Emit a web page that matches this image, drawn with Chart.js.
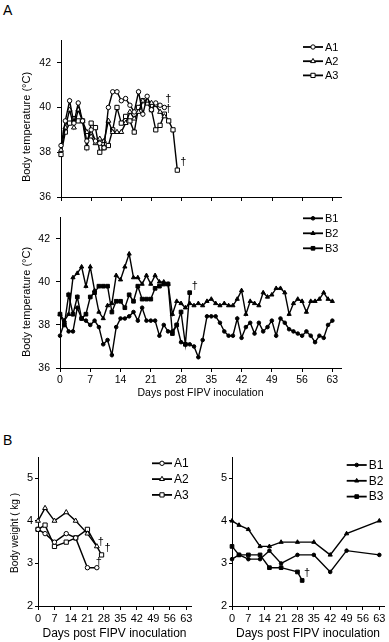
<!DOCTYPE html>
<html>
<head>
<meta charset="utf-8">
<script src="https://cdn.jsdelivr.net/npm/chart.js@4"></script>
<style>
  body { margin: 0; background: #fff; width: 389px; height: 642px; position: relative; overflow: hidden;
         font-family: "Liberation Sans", Arial, sans-serif; }
  canvas { position: absolute; }
  .panel { position: absolute; font-size: 14px; color: #000; line-height: 16px; }
</style>
</head>
<body>
<div class="panel" style="left:3px;top:2px">A</div>
<div class="panel" style="left:3px;top:432px">B</div>
<canvas id="tempA" width="389" height="182" style="left:0;top:28px"></canvas>
<canvas id="tempB" width="389" height="200" style="left:0;top:205px"></canvas>
<canvas id="wtA" width="196" height="197" style="left:0;top:445px"></canvas>
<canvas id="wtB" width="195" height="197" style="left:194px;top:445px"></canvas>

<script>
// x ticks shared by every panel (days post inoculation)
const dayTicks = [0, 7, 14, 21, 28, 35, 42, 49, 56, 63];
const tempTicks = [36, 38, 40, 42];
const weightTicks = [2, 3, 4, 5];

// body temperature, one value per day starting at day 0
const tempA1 = [38.3, 39.4, 40.3, 39.3, 40.2, 39.4, 38.5, 39.0, 38.5, 38.4, 38.2, 40.0, 40.7, 40.7,
                40.3, 40.4, 40.1, 39.8, 40.7, 39.7, 40.5, 39.9, 40.2, 40.1, 40.0];
const tempA2 = [38.1, 39.1, 39.9, 39.1, 39.9, 39.4, 38.9, 38.7, 38.4, 38.6, 38.5, 39.4, 38.9, 38.9,
                38.9, 39.3, 39.8, 39.5, 39.8, 40.3, 40.3, 40.2, 40.1, 39.8, 39.6];
const tempA3 = [37.9, 38.9, 39.3, 39.5, 39.4, 39.4, 38.2, 39.3, 39.1, 38.0, 38.2, 38.3, 39.0, 40.0,
                39.3, 39.6, 39.4, 38.9, 40.0, 40.3, 40.2, 39.9, 39.0, 39.2, 39.7, 39.4, 39.0, 37.2];

const tempB1 = [37.5, 38.1, 37.7, 37.7, 38.8, 38.3, 38.2,
                38.0, 38.2, 37.9, 37.1, 37.3, 36.6, 37.9,
                38.3, 38.3, 38.4, 38.6, 38.2, 38.8, 38.2,
                38.2, 38.2, 37.5, 38.0, 37.7, 37.7, 38.0,
                37.2, 37.1, 37.1, 37.0, 36.5, 37.3, 38.4,
                38.4, 38.4, 38.1, 37.7, 37.5, 37.5, 38.3,
                37.4, 37.9, 38.1, 37.6, 38.1, 37.7, 37.9,
                38.2, 37.5, 38.3, 38.1, 37.8, 37.7, 37.6,
                37.5, 37.7, 37.5, 37.2, 37.5, 37.4, 38.0,
                38.2];
const tempB2 = [38.5, 38.2, 38.5, 40.2, 40.4, 40.7, 39.8,
                40.7, 39.6, 38.6, 38.3, 38.9, 39.0, 40.3,
                40.1, 40.7, 41.3, 40.2, 40.2, 39.9, 40.3,
                39.9, 40.3, 40.0, 40.0, 39.9, 38.5, 39.1,
                39.0, 38.8, 39.0, 38.9, 39.0, 38.9, 39.1,
                39.2, 39.0, 38.9, 39.0, 38.9, 38.9, 39.2,
                39.6, 38.5, 39.1, 39.0, 38.9, 39.5, 39.3,
                39.4, 39.7, 39.7, 39.5, 38.5, 39.0, 39.2,
                39.1, 38.6, 39.1, 39.1, 39.2, 39.5, 39.2,
                39.1];
const tempB3 = [38.5, 38.0, 39.4, 38.5, 39.3, 38.3, 38.5,
                39.3, 39.5, 39.8, 39.8, 39.8, 38.6, 39.1,
                39.1, 38.8, 39.4, 39.1, 39.8, 39.2, 39.2,
                39.2, 39.7, 39.8, 39.9, 39.9, 37.6, 38.0,
                38.6, 37.1, 39.5];

// body weight (kg) on weighing days
const wDaysA1 = [0, 3, 7, 12, 16, 21, 25];
const wDaysA2 = [0, 3, 7, 12, 16, 21, 25];
const wDaysA3 = [0, 3, 7, 12, 16, 21, 27];
const weightA1 = [3.8, 3.7, 3.5, 3.7, 3.6, 2.9, 2.9];
const weightA2 = [4.0, 4.3, 4.0, 4.2, 4.0, 3.7, 3.4];
const weightA3 = [3.8, 3.9, 3.4, 3.5, 3.6, 3.8, 3.2];

const wDaysB = [0, 3, 7, 12, 16, 21, 28, 35, 42, 49, 63];
const wDaysB3 = [0, 3, 7, 12, 16, 21, 28, 30];
const weightB1 = [3.1, 3.2, 3.1, 3.1, 3.3, 3.0, 3.2, 3.2, 2.8, 3.3, 3.2];
const weightB2 = [4.0, 3.9, 3.8, 3.4, 3.4, 3.5, 3.5, 3.5, 3.2, 3.7, 4.0];
const weightB3 = [3.4, 3.2, 3.2, 3.2, 2.9, 2.9, 2.8, 2.6];

const FONT = "'Liberation Sans', Arial, sans-serif";
Chart.defaults.font.family = FONT;
Chart.defaults.color = '#000';

function series(label, values, days, style, filled, r, dagger) {
  return {
    label: label,
    data: values.map((v, i) => ({ x: days ? days[i] : i, y: v })),
    borderColor: '#000',
    borderWidth: 1.4,
    pointStyle: style,
    pointRadius: r,
    pointBorderWidth: 1,
    pointBorderColor: '#000',
    pointBackgroundColor: filled ? '#000' : '#fff',
    tension: 0,
    clip: false,
    dagger: dagger
  };
}

function drawMarker(ctx, style, x, y, r, fill) {
  ctx.beginPath();
  if (style === 'circle') {
    ctx.arc(x, y, r, 0, Math.PI * 2);
  } else if (style === 'rect') {
    const s = r * Math.SQRT1_2;
    ctx.rect(x - s, y - s, 2 * s, 2 * s);
  } else {
    ctx.moveTo(x, y - r);
    ctx.lineTo(x + r * 0.866, y + r * 0.5);
    ctx.lineTo(x - r * 0.866, y + r * 0.5);
    ctx.closePath();
  }
  ctx.fillStyle = fill;
  ctx.fill();
  ctx.lineWidth = 1;
  ctx.strokeStyle = '#000';
  ctx.stroke();
}

// legend: short line with marker, label to the right
const keyPlugin = {
  id: 'key',
  afterDraw(chart, args, o) {
    const ctx = chart.ctx;
    ctx.save();
    chart.data.datasets.forEach((ds, i) => {
      const y = o.top + i * o.gap;
      ctx.strokeStyle = '#000';
      ctx.lineWidth = 1.8;
      ctx.beginPath();
      ctx.moveTo(o.x, y);
      ctx.lineTo(o.x + o.len, y);
      ctx.stroke();
      drawMarker(ctx, ds.pointStyle, o.x + o.len / 2, y, ds.pointRadius, ds.pointBackgroundColor);
      ctx.fillStyle = '#000';
      ctx.font = o.size + 'px ' + FONT;
      ctx.textBaseline = 'middle';
      ctx.textAlign = 'left';
      ctx.fillText(ds.label, o.x + o.len + 2, y + 0.5);
    });
    ctx.restore();
  }
};

// dagger after the last point of animals that died
const daggerPlugin = {
  id: 'dagger',
  afterDatasetsDraw(chart) {
    const ctx = chart.ctx;
    ctx.save();
    ctx.fillStyle = '#000';
    ctx.font = '11px ' + FONT;
    ctx.textAlign = 'center';
    ctx.textBaseline = 'middle';
    chart.data.datasets.forEach((ds, i) => {
      if (!ds.dagger) return;
      const pts = chart.getDatasetMeta(i).data;
      const p = pts[pts.length - 1];
      ctx.fillText('\u2020', p.x + ds.dagger[0], p.y + ds.dagger[1]);
    });
    ctx.restore();
  }
};

// rotated y axis title
const sideTitle = {
  id: 'sideTitle',
  afterDraw(chart, args, o) {
    if (!o.text) return;
    const ctx = chart.ctx;
    ctx.save();
    ctx.translate(o.x, o.y);
    ctx.rotate(-Math.PI / 2);
    ctx.fillStyle = '#000';
    ctx.font = o.size + 'px ' + FONT;
    ctx.textAlign = 'center';
    ctx.textBaseline = 'middle';
    ctx.fillText(o.text, 0, 0);
    ctx.restore();
  }
};

function axes(o) {
  return {
    x: {
      type: 'linear', min: 0, max: 65,
      afterBuildTicks: s => { s.ticks = dayTicks.map(v => ({ value: v })); },
      afterFit: s => { s.height = o.xh; },
      border: { color: '#000', width: 1 },
      grid: { drawOnChartArea: false, tickLength: 4, color: '#000' },
      ticks: { display: o.xLabels, padding: 2, autoSkip: false, maxRotation: 0,
               font: { size: o.tick }, color: '#000' },
      title: { display: !!o.xTitle, text: o.xTitle, color: '#000',
               font: { size: o.titleSize }, padding: { top: 0, bottom: o.titlePad } }
    },
    y: {
      type: 'linear', min: o.ymin, max: o.ymax,
      afterBuildTicks: s => { s.ticks = o.yTicks.map(v => ({ value: v })); },
      afterFit: s => { s.width = o.yw; },
      border: { color: '#000', width: 1 },
      grid: { drawOnChartArea: false, tickLength: o.ytl, color: '#000' },
      ticks: { padding: o.ypad, font: { size: o.tick }, color: '#000' }
    }
  };
}

function make(id, datasets, pad, scaleOpts, key, ytitle) {
  new Chart(document.getElementById(id), {
    type: 'line',
    data: { datasets: datasets },
    options: {
      responsive: false,
      animation: false,
      layout: { padding: pad },
      scales: axes(scaleOpts),
      plugins: { legend: { display: false }, tooltip: { enabled: false },
                 key: key, sideTitle: ytitle || {} }
    },
    plugins: [keyPlugin, daggerPlugin, sideTitle]
  });
}

make('tempA', [
    series('A1', tempA1, null, 'circle', false, 2.2, [4, -8]),
    series('A2', tempA2, null, 'triangle', false, 2.8, [4, -7]),
    series('A3', tempA3, null, 'rect', false, 3, [6, -8])
  ], { top: 11, right: 48, left: 0, bottom: 0 },
  { xh: 13, xLabels: false, tick: 10.5, ymin: 36, ymax: 43, yTicks: tempTicks, yw: 61, ytl: 4, ypad: 6 },
  { x: 303, len: 20, top: 19, gap: 14.2, size: 11 },
  { text: 'Body temperature (\u00B0C)', x: 26.5, y: 99, size: 11 });

make('tempB', [
    series('B1', tempB1, null, 'circle', true, 1.8),
    series('B2', tempB2, null, 'triangle', true, 2.4),
    series('B3', tempB3, null, 'rect', true, 2.6, [5, -7])
  ], { top: 7, right: 48, left: 0, bottom: 0 },
  { xh: 37, xLabels: true, tick: 10.5, xTitle: 'Days post FIPV inoculation', titleSize: 10.5, titlePad: 5.5,
    ymin: 36, ymax: 43, yTicks: tempTicks, yw: 60, ytl: 4, ypad: 6 },
  { x: 303, len: 20, top: 13.3, gap: 15, size: 11 },
  { text: 'Body temperature (\u00B0C)', x: 26.5, y: 97, size: 11 });

make('wtA', [
    series('A1', weightA1, wDaysA1, 'circle', false, 2.2, [2, -6]),
    series('A2', weightA2, wDaysA2, 'triangle', false, 2.8, [4, -4]),
    series('A3', weightA3, wDaysA3, 'rect', false, 3, [6, -7])
  ], { top: 12, right: 4, left: 0, bottom: 0 },
  { xh: 36, xLabels: true, tick: 11, xTitle: 'Days post FIPV inoculation', titleSize: 12, titlePad: 1,
    ymin: 2, ymax: 5.5, yTicks: weightTicks, yw: 38, ytl: 3, ypad: 2 },
  { x: 152, len: 20, top: 18.3, gap: 15.8, size: 12 },
  { text: 'Body weight ( kg )', x: 15.5, y: 88, size: 10 });

make('wtB', [
    series('B1', weightB1, wDaysB, 'circle', true, 1.8),
    series('B2', weightB2, wDaysB, 'triangle', true, 2.4),
    series('B3', weightB3, wDaysB3, 'rect', true, 2.6, [5, -7])
  ], { top: 12, right: 4, left: 0, bottom: 0 },
  { xh: 36, xLabels: true, tick: 11, xTitle: 'Days post FIPV inoculation', titleSize: 12, titlePad: 1,
    ymin: 2, ymax: 5.5, yTicks: weightTicks, yw: 38, ytl: 3, ypad: 2 },
  { x: 152.7, len: 20, top: 20, gap: 15.8, size: 12 });
</script>
</body>
</html>
